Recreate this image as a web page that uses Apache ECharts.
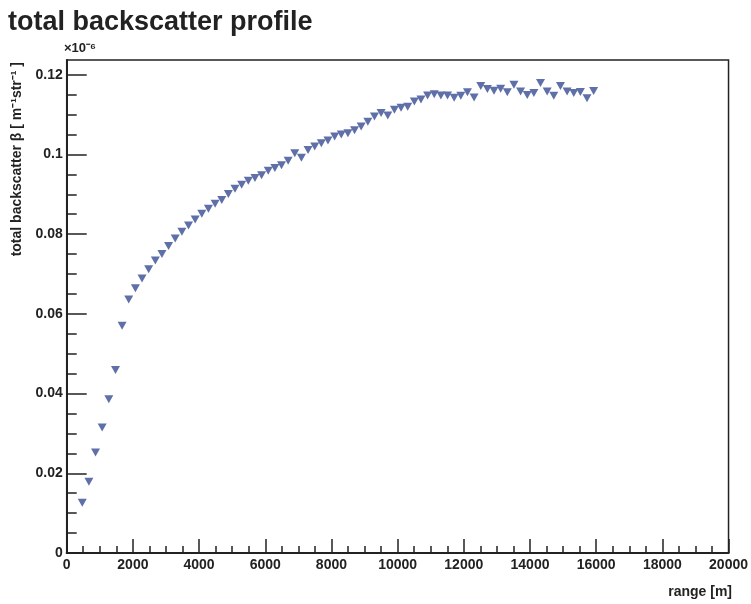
<!DOCTYPE html>
<html>
<head>
<meta charset="utf-8">
<script src="https://cdn.jsdelivr.net/npm/echarts@6/dist/echarts.min.js"></script>
<style>html,body{margin:0;padding:0;background:#fff;}#c{width:751px;height:604px;}</style>
</head>
<body>
<div id="c"></div>
<script>
// range [m]
var rangeValues = [470, 671, 871, 1072, 1273, 1474, 1674, 1875, 2076, 2276,
  2477, 2678, 2878, 3079, 3280, 3481, 3681, 3882, 4083, 4283,
  4484, 4685, 4885, 5086, 5287, 5488, 5688, 5889, 6090, 6290,
  6491, 6692, 6892, 7093, 7294, 7495, 7695, 7896, 8097, 8297,
  8498, 8699, 8899, 9100, 9301, 9501, 9702, 9903, 10104, 10304,
  10505, 10706, 10906, 11107, 11308, 11508, 11709, 11910, 12110, 12311,
  12512, 12713, 12913, 13114, 13315, 13515, 13716, 13917, 14117, 14318,
  14519, 14719, 14920, 15121, 15322, 15522, 15723, 15924];
// total backscatter (x1e-6)
var backscatterValues = [0.0126, 0.0179, 0.0252, 0.0315, 0.0386, 0.0459, 0.0570, 0.0636, 0.0664, 0.0689,
  0.0712, 0.0734, 0.0750, 0.0770, 0.0789, 0.0806, 0.0822, 0.0837, 0.0851, 0.0864,
  0.0876, 0.0886, 0.0901, 0.0914, 0.0924, 0.0934, 0.0941, 0.0948, 0.0959, 0.0966,
  0.0973, 0.0984, 0.1003, 0.0992, 0.1011, 0.1020, 0.1028, 0.1035, 0.1045, 0.1050,
  0.1053, 0.1061, 0.1070, 0.1082, 0.1095, 0.1104, 0.1098, 0.1112, 0.1117, 0.1120,
  0.1133, 0.1138, 0.1148, 0.1151, 0.1148, 0.1148, 0.1142, 0.1147, 0.1156, 0.1143,
  0.1172, 0.1164, 0.1160, 0.1165, 0.1156, 0.1175, 0.1158, 0.1149, 0.1154, 0.1179,
  0.1158, 0.1147, 0.1172, 0.1158, 0.1154, 0.1157, 0.1141, 0.1159];
var yMajorTicks = [0, 0.02, 0.04, 0.06, 0.08, 0.1, 0.12];
var yMajorLabels = ['0', '0.02', '0.04', '0.06', '0.08', '0.1', '0.12'];
var yMinorTicks = [0.005, 0.01, 0.015, 0.025, 0.03, 0.035, 0.045, 0.05, 0.055, 0.065, 0.07, 0.075,
  0.085, 0.09, 0.095, 0.105, 0.11, 0.115];
var xTickLabels = ['0', '2000', '4000', '6000', '8000', '10000', '12000', '14000', '16000', '18000', '20000'];

var FONT = 'Liberation Sans, Arial, sans-serif';
var dark = '#222';
var points = rangeValues.map(function (r, i) { return [r, backscatterValues[i]]; });

var chart = echarts.init(document.getElementById('c'), null, {renderer: 'canvas'});
chart.setOption({
  animation: false,
  backgroundColor: '#fff',
  title: {
    text: 'total backscatter profile',
    left: 3, top: 4,
    textStyle: {fontSize: 27, fontWeight: 'bold', color: dark, fontFamily: FONT}
  },
  grid: {left: 66.7, right: 20, top: 60, bottom: 51, show: true, borderColor: dark, borderWidth: 1.5, backgroundColor: 'transparent'},
  xAxis: {
    type: 'value', min: 0, max: 20000, interval: 2000,
    axisLine: {lineStyle: {color: dark, width: 2}},
    axisTick: {inside: true, length: 14, lineStyle: {color: dark, width: 1.5}},
    minorTick: {show: true, splitNumber: 4, length: 7, lineStyle: {color: dark, width: 1.5}},
    splitLine: {show: false},
    axisLabel: {
      color: dark, fontSize: 14, fontWeight: 'bold', fontFamily: FONT, margin: 5,
      formatter: function (v) { return xTickLabels[Math.round(v / 2000)]; }
    }
  },
  yAxis: [{
    type: 'value', min: 0, max: 0.1237,
    axisLine: {show: true, lineStyle: {color: dark, width: 2}},
    axisTick: {show: true, inside: true, length: 20, customValues: yMajorTicks, lineStyle: {color: dark, width: 1.5}},
    splitLine: {show: false},
    axisLabel: {
      color: dark, fontSize: 14, fontWeight: 'bold', fontFamily: FONT, margin: 4,
      customValues: yMajorTicks,
      formatter: function (v) { return yMajorLabels[Math.round(v / 0.02)]; }
    }
  }, {
    type: 'value', min: 0, max: 0.1237, position: 'left',
    axisLine: {show: false},
    axisTick: {show: true, inside: true, length: 10, customValues: yMinorTicks, lineStyle: {color: dark, width: 1.5}},
    splitLine: {show: false},
    axisLabel: {show: false}
  }],
  graphic: [
    {type: 'text', left: 64, top: 42, style: {text: '×10⁻⁶', fontSize: 13, fontWeight: 'bold', fill: dark, fontFamily: FONT}},
    {type: 'text', x: 17, y: 62, rotation: Math.PI / 2,
      style: {text: 'total backscatter β [ m⁻¹str⁻¹ ]', fontSize: 14, fontWeight: 'bold', fill: dark, fontFamily: FONT,
        align: 'right', verticalAlign: 'middle'}},
    {type: 'text', right: 19, top: 585, style: {text: 'range [m]', fontSize: 14, fontWeight: 'bold', fill: dark, fontFamily: FONT}}
  ],
  series: [{
    type: 'scatter',
    xAxisIndex: 0, yAxisIndex: 0,
    data: points,
    symbol: 'triangle', symbolRotate: 180, symbolSize: [9, 8],
    itemStyle: {color: '#5f6fa8', opacity: 1}
  }]
});
</script>
</body>
</html>
